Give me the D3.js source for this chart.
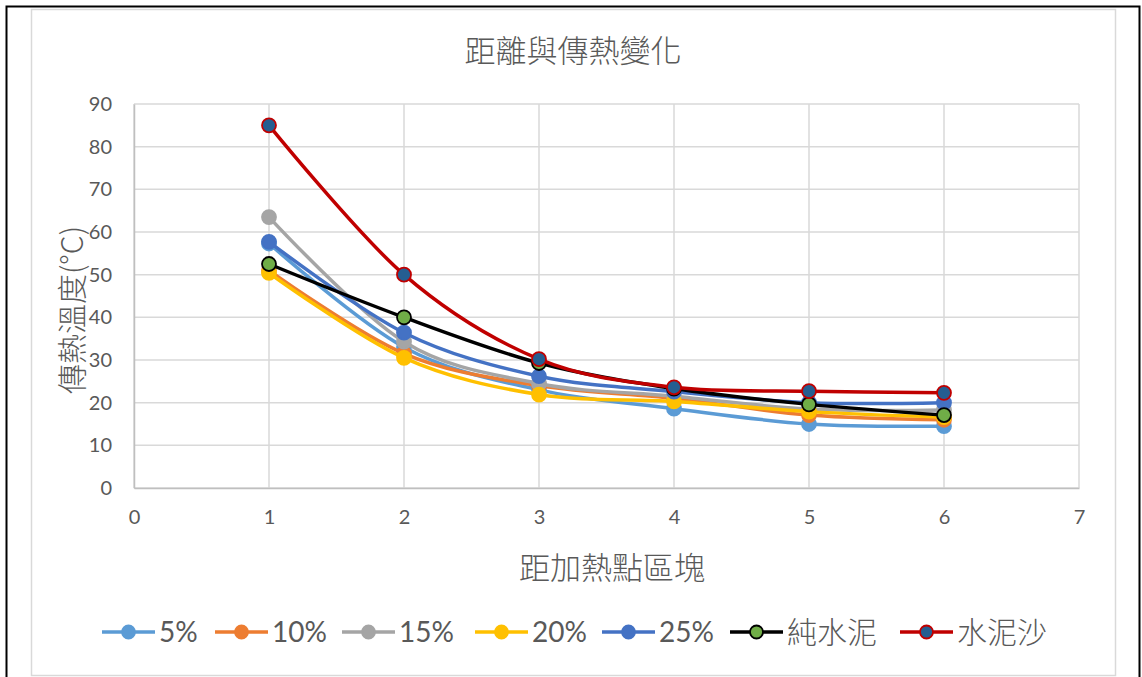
<!DOCTYPE html>
<html>
<head>
<meta charset="utf-8">
<script src="https://cdn.jsdelivr.net/npm/d3@7"></script>
<style>
  html, body { margin: 0; padding: 0; background: #fff; }
  svg { display: block; }
</style>
</head>
<body>
<svg id="chart" width="1142" height="677"></svg>
<script>
// Block index along the sample (distance from heating point)
const blocks = [1, 2, 3, 4, 5, 6];

// Measured temperatures (°C) per mix
const s5   = [57.3, 33.0, 23.0, 18.6, 15.0, 14.5];
const s10  = [51.0, 31.5, 24.0, 21.0, 17.1, 16.0];
const s15  = [63.5, 34.3, 24.5, 21.5, 18.5, 18.3];
const s20  = [50.4, 30.5, 21.9, 20.3, 17.9, 16.6];
const s25  = [57.7, 36.4, 26.2, 22.6, 20.0, 20.0];
const sPure = [52.5, 40.0, 29.3, 23.3, 19.6, 17.1];
const sSand = [85.0, 50.0, 30.2, 23.6, 22.7, 22.3];

const seriesNames = ["5%", "10%", "15%", "20%", "25%", "純水泥", "水泥沙"];
const seriesValues = [s5, s10, s15, s20, s25, sPure, sSand];
const lineColors   = ["#5B9BD5", "#ED7D31", "#A5A5A5", "#FFC000", "#4472C4", "#000000", "#C00000"];
const markerFills  = ["#5B9BD5", "#ED7D31", "#A5A5A5", "#FFC000", "#4472C4", "#70AD47", "#255E91"];

const xTicks = [0, 1, 2, 3, 4, 5, 6, 7];
const yTicks = [0, 10, 20, 30, 40, 50, 60, 70, 80, 90];

const titleText = "距離與傳熱變化";
const xTitle = "距加熱點區塊";
const yTitle = "傳熱溫度(°C)";

const svg = d3.select("#chart");
const latin = "Lato, 'Noto Sans', sans-serif";
const cjk = "'Noto Sans CJK TC', 'Noto Sans CJK SC', sans-serif";
const textColor = "#595959";

// Outer frame
svg.append("path")
  .attr("d", "M6.5,677 V6.5 H1139.5 V677")
  .attr("fill", "none").attr("stroke", "#000").attr("stroke-width", 2);

// Chart area border
svg.append("rect")
  .attr("x", 31.5).attr("y", 9.5).attr("width", 1084).attr("height", 666)
  .attr("fill", "#fff").attr("stroke", "#D9D9D9").attr("stroke-width", 1.5);

const plot = { left: 134, right: 1079, top: 104, bottom: 488 };

const x = d3.scaleLinear().domain([0, 7]).range([plot.left, plot.right]);
const y = d3.scaleLinear().domain([0, 90]).range([plot.bottom, plot.top]);

// Gridlines
const grid = svg.append("g");
grid.selectAll("line.h").data(yTicks).join("line")
  .attr("x1", plot.left).attr("x2", plot.right)
  .attr("y1", d => y(d)).attr("y2", d => y(d))
  .attr("stroke", "#D9D9D9").attr("stroke-width", 1.5);
grid.selectAll("line.v").data(xTicks).join("line")
  .attr("y1", plot.top).attr("y2", plot.bottom)
  .attr("x1", d => x(d)).attr("x2", d => x(d))
  .attr("stroke", "#D9D9D9").attr("stroke-width", 1.5);

// Axes
const yAxis = svg.append("g")
  .attr("transform", `translate(${plot.left},0)`)
  .call(d3.axisLeft(y).tickValues(yTicks).tickFormat(d3.format("d")).tickSize(0).tickPadding(22));
const xAxis = svg.append("g")
  .attr("transform", `translate(0,${plot.bottom})`)
  .call(d3.axisBottom(x).tickValues(xTicks).tickFormat(d3.format("d")).tickSize(0).tickPadding(22));
[yAxis, xAxis].forEach(a => {
  a.select(".domain").attr("stroke", "#BFBFBF").attr("stroke-width", 1.5);
  a.selectAll("text").attr("font-family", latin).attr("font-size", 20).attr("fill", textColor);
});

// Titles
svg.append("text").attr("x", 573).attr("y", 62).attr("text-anchor", "middle")
  .attr("font-family", cjk).attr("font-weight", 300).attr("font-size", 31).attr("fill", textColor).text(titleText);
svg.append("text").attr("x", 612).attr("y", 579).attr("text-anchor", "middle")
  .attr("font-family", cjk).attr("font-weight", 300).attr("font-size", 31).attr("fill", textColor).text(xTitle);
svg.append("text")
  .attr("transform", `translate(83,${(plot.top + plot.bottom) / 2 + 14}) rotate(-90)`)
  .attr("text-anchor", "middle")
  .attr("font-family", cjk).attr("font-weight", 300).attr("font-size", 30).attr("fill", textColor).text(yTitle);

// Smoothed series lines and markers
const line = d3.line()
  .x((d, i) => x(blocks[i]))
  .y(d => y(d))
  .curve(d3.curveCardinal.tension(0));

const series = svg.append("g");
seriesValues.forEach((vals, k) => {
  const g = series.append("g");
  g.append("path").datum(vals)
    .attr("d", line)
    .attr("fill", "none")
    .attr("stroke", lineColors[k])
    .attr("stroke-width", 3.5)
    .attr("stroke-linejoin", "round").attr("stroke-linecap", "round");
  g.selectAll("circle").data(vals).join("circle")
    .attr("cx", (d, i) => x(blocks[i]))
    .attr("cy", d => y(d))
    .attr("r", 7)
    .attr("fill", markerFills[k])
    .attr("stroke", lineColors[k])
    .attr("stroke-width", 1.8);
});

// Legend
const legendX = [102, 215, 342, 475, 602, 730, 900];
const legend = svg.append("g").attr("transform", "translate(0,632)");
seriesNames.forEach((name, k) => {
  const g = legend.append("g").attr("transform", `translate(${legendX[k]},0)`);
  g.append("line").attr("x1", 0).attr("x2", 53).attr("y1", 0).attr("y2", 0)
    .attr("stroke", lineColors[k]).attr("stroke-width", 3.5);
  g.append("circle").attr("cx", 26.5).attr("cy", 0).attr("r", 6.5)
    .attr("fill", markerFills[k]).attr("stroke", lineColors[k]).attr("stroke-width", 1.8);
  const isCjk = /[^\x00-\x7F]/.test(name);
  g.append("text").attr("x", 57).attr("y", isCjk ? 11 : 10)
    .attr("font-family", isCjk ? cjk : latin)
    .attr("font-weight", isCjk ? 300 : 400)
    .attr("font-size", isCjk ? 30 : 28)
    .attr("fill", textColor).text(name);
});
</script>
</body>
</html>
